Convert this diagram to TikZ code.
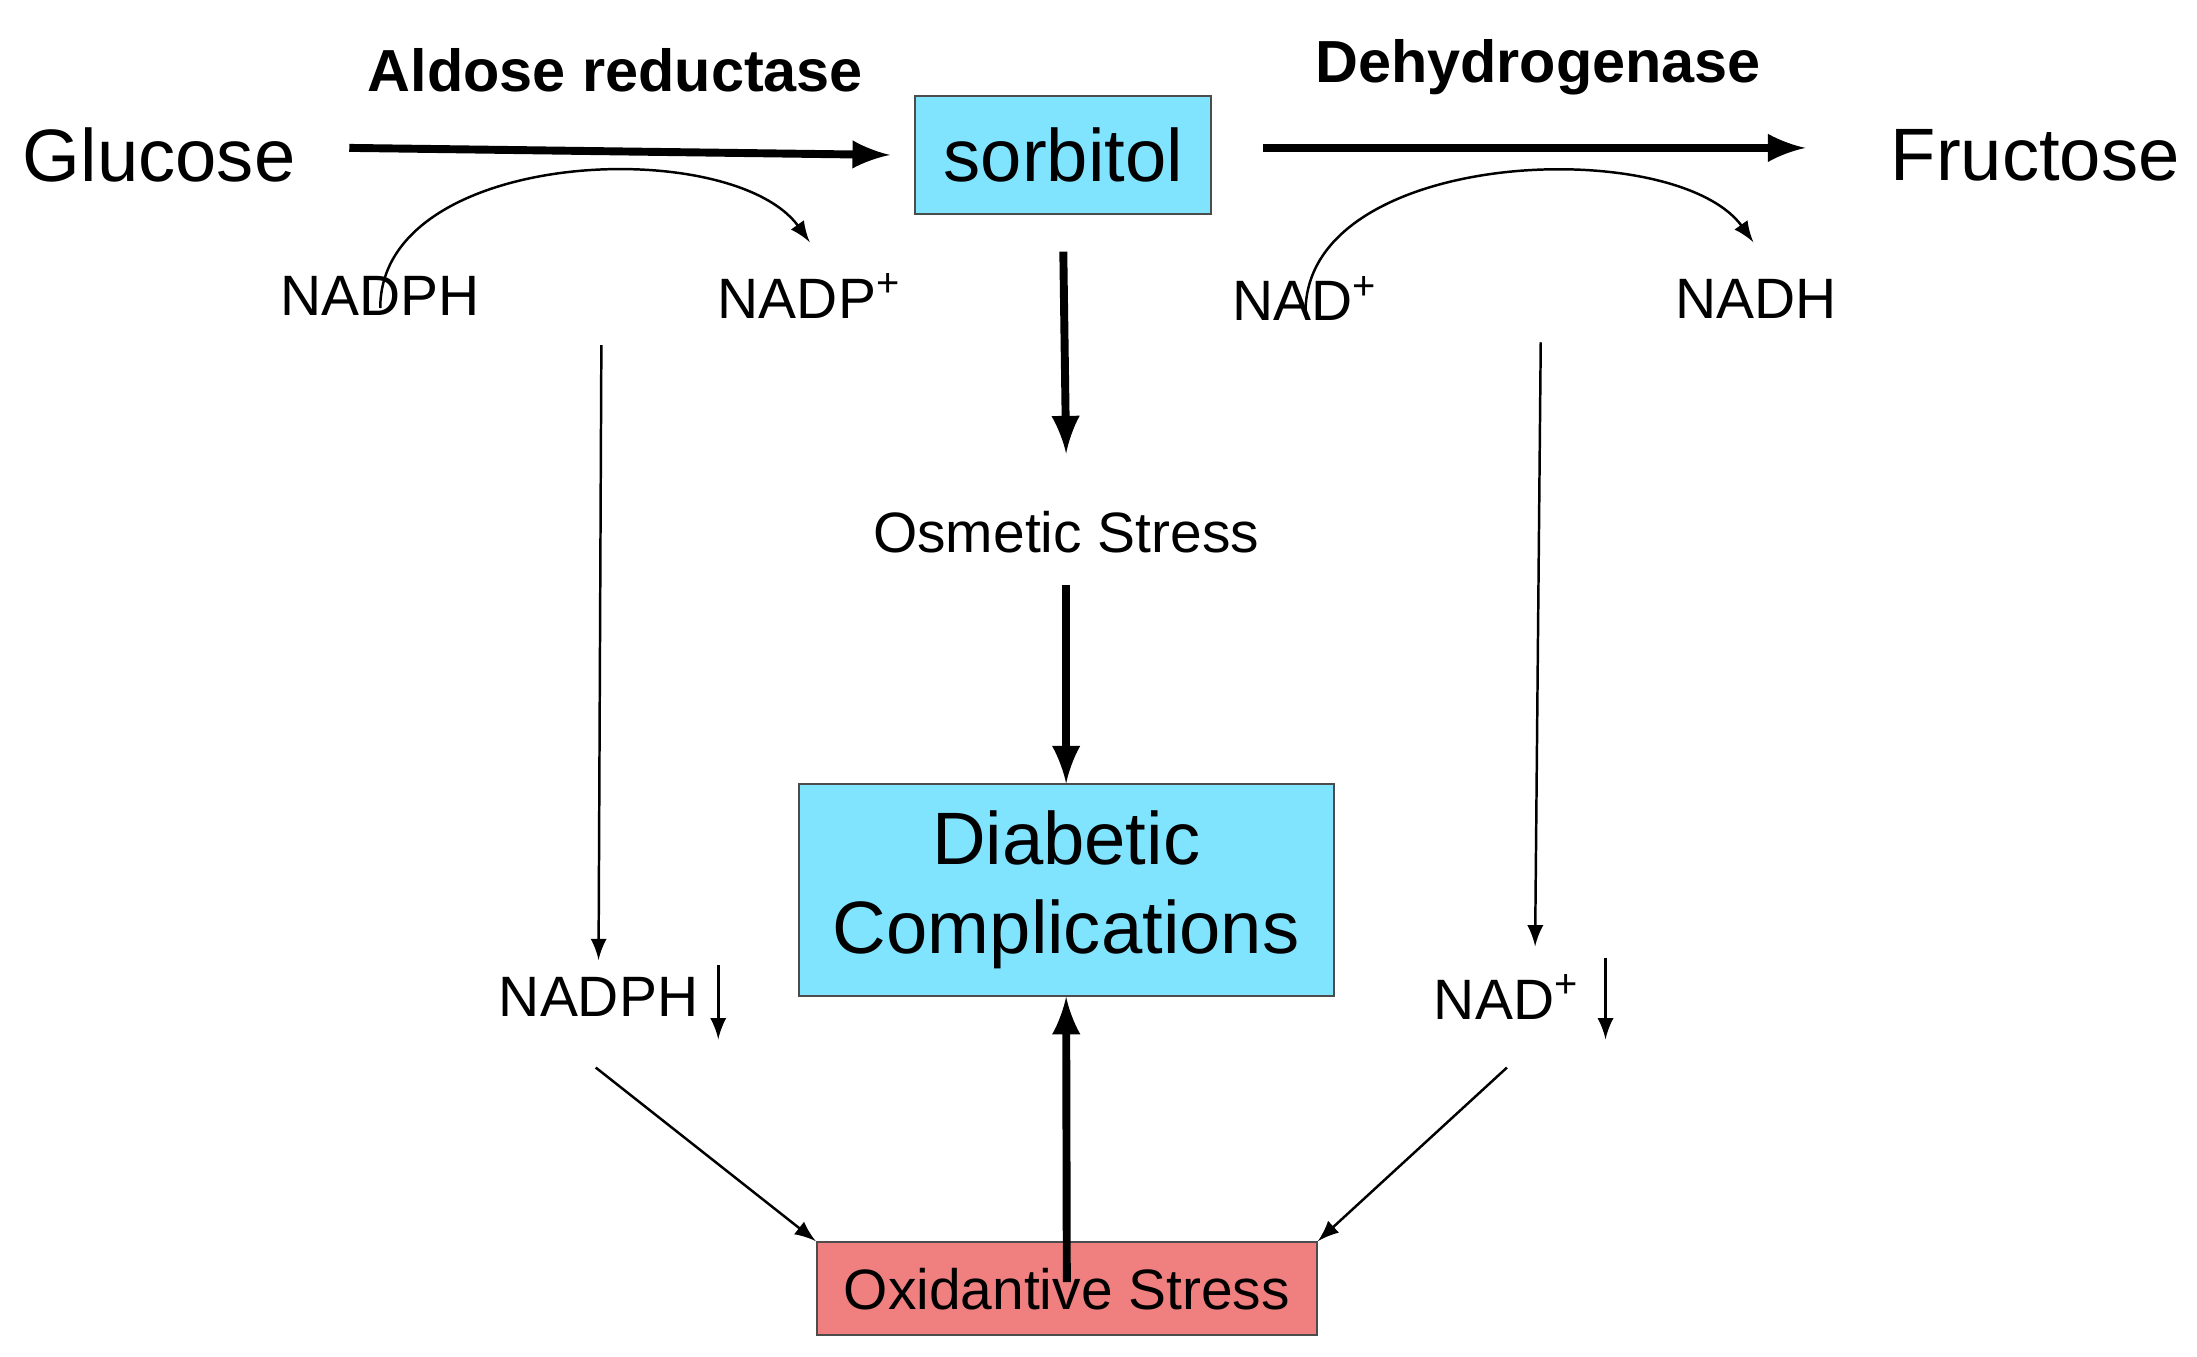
\documentclass[tikz,border=0pt]{standalone}
\usepackage{fontspec}
\setmainfont{Liberation Sans}
\usetikzlibrary{arrows,positioning,calc}
\definecolor{boxcyan}{HTML}{80E4FF}
\definecolor{boxred}{HTML}{F08080}
\tikzset{
	big/.style={font=\fontsize{15}{18}\selectfont},
	enz/.style={font=\fontsize{12}{14}\selectfont\bfseries},
	small/.style={font=\fontsize{11.5}{14}\selectfont},
	thickarrow/.style={-latex, line width=1.6pt},
	thinarrow/.style={-latex, line width=0.5pt}
}
\begin{document}
\begin{tikzpicture}[x=1cm,y=1cm]
	\useasboundingbox (0,0) rectangle (15.6,-9.63);
	
	% Top row: substrates and enzymes
	\node[big] (glc) at (1.13,-1.10) {Glucose};
	\node[big, draw=black!70, fill=boxcyan, minimum width=2.1cm, minimum height=0.84cm] (sor) at (7.55,-1.10) {sorbitol};
	\node[big] (fru) at (14.45,-1.10) {Fructose};
	\node[enz] (ar) at (4.37,-0.50) {Aldose reductase};
	\node[enz] (dh) at (10.92,-0.48) {Dehydrogenase};
	
	% Cofactors
	\node[small] (nadph) at (2.70,-2.10) {NADPH};
	\node[small] (nadp) at (5.75,-2.10) {NADP\textsuperscript{+}};
	\node[small] (nad) at (9.27,-2.12) {NAD\textsuperscript{+}};
	\node[small] (nadh) at (12.47,-2.12) {NADH};
	
	% Middle and bottom
	\node[small] (osm) at (7.57,-3.78) {Osmetic Stress};
	\node[big, draw=black!70, fill=boxcyan, minimum width=3.8cm, minimum height=1.5cm, align=center] (dc) at (7.57,-6.32) {Diabetic\\Complications};
	\node[small, draw=black!70, fill=boxred, minimum width=3.55cm, minimum height=0.66cm] (ox) at (7.575,-9.15) {Oxidantive Stress};
	\node[small] (nadphl) at (4.25,-7.08) {NADPH};
	\node[small] (nadl) at (10.70,-7.08) {NAD\textsuperscript{+}};
	
	% Main reactions
	\draw[thickarrow] (2.48,-1.05) -- (sor.west -| 6.32,0) ;
	\draw[thickarrow] (8.97,-1.05) -- (12.82,-1.05);
	\draw[thinarrow] (nadph.north) ++(0,-0.35) .. controls (2.70,-1.05) and (5.20,-0.95) .. (5.75,-1.72);
	\draw[thinarrow] (nad.north) ++(0,-0.37) .. controls (9.28,-1.05) and (11.90,-0.95) .. (12.45,-1.72);
	
	% Vertical flow
	\draw[thickarrow] (sor.south) ++(0,-0.26) -- (7.57,-3.22);
	\draw[thickarrow] (osm.south) ++(0,-0.10) -- (dc.north);
	\draw[thickarrow] (ox.north) ++(0,-0.29) -- (dc.south);
	
	% Cofactor depletion
	\draw[thinarrow] (4.27,-2.45) -- (nadphl.north);
	\draw[thinarrow] (10.94,-2.43) -- (10.90,-6.72);
	\coordinate (d1) at (5.10,-6.85);
	\coordinate (d2) at (11.40,-6.80);
	\draw[thinarrow] (d1) -- ++(0,-0.53);
	\draw[thinarrow] (d2) -- ++(0,-0.58);
	\draw[thinarrow] (4.23,-7.58) -- (ox.north west);
	\draw[thinarrow] (10.70,-7.58) -- (ox.north east);
\end{tikzpicture}
\end{document}
